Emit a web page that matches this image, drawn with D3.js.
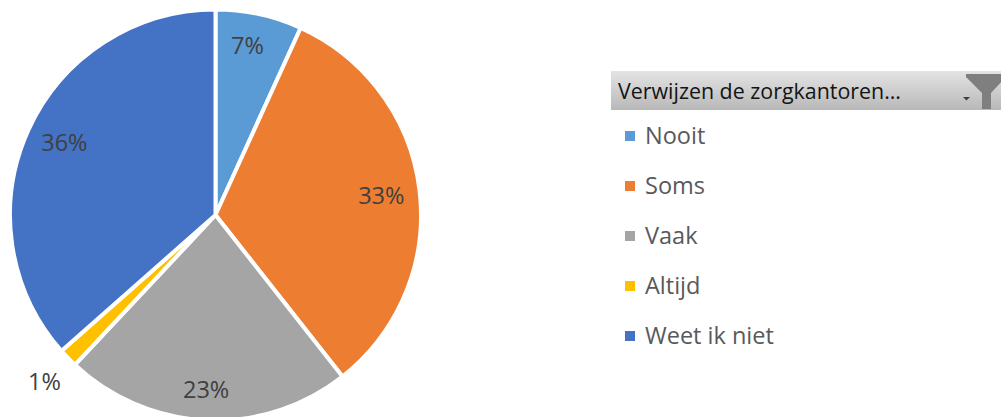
<!DOCTYPE html>
<html>
<head>
<meta charset="utf-8">
<script src="https://d3js.org/d3.v7.min.js"></script>
<style type="text/css">
  html, body { margin: 0; padding: 0; background: #fff; overflow: hidden; }
  text { font-family: "Open Sans", "Noto Sans", sans-serif; }
</style>
</head>
<body>
<svg id="chart" width="1001" height="417"></svg>
<script>
var categories = ["Nooit", "Soms", "Vaak", "Altijd", "Weet ik niet"];
var values = [6.8, 32.6, 22.6, 1.5, 36.5];
var labels = ["7%", "33%", "23%", "1%", "36%"];
var colors = ["#5b9bd5", "#ed7d31", "#a5a5a5", "#ffc000", "#4472c4"];
var filterTitle = "Verwijzen de zorgkantoren...";

var svg = d3.select("#chart");

var defs = svg.append("defs");
var grad = defs.append("linearGradient").attr("id", "hdr")
    .attr("x1", 0).attr("y1", 0).attr("x2", 0).attr("y2", 1);
grad.append("stop").attr("offset", "0%").attr("stop-color", "#e4e4e4");
grad.append("stop").attr("offset", "100%").attr("stop-color", "#b8b8b8");

// pie
var cx = 215.5, cy = 215, r = 205.5;
var pie = d3.pie().sort(null)(values);
var arc = d3.arc().innerRadius(0).outerRadius(r);
var labelRadius = [170, 170, 168, 0, 145];
// hand nudges so the labels land where the original put them
var nudgeX = [-4, -3, -2, 0, -19];
var nudgeY = [-3, 1, 7, 0, -13];
var g = svg.append("g").attr("transform", "translate(" + cx + "," + cy + ")");

g.selectAll("path").data(pie).enter().append("path")
    .attr("d", arc)
    .attr("fill", (d, i) => colors[i])
    .attr("stroke", "#fff")
    .attr("stroke-width", 4)
    .attr("stroke-linejoin", "round");

g.selectAll("text").data(pie).enter().append("text")
    .attr("text-anchor", "middle")
    .attr("font-size", 23.5)
    .attr("fill", "#404040")
    .attr("x", (d, i) => {
      var a = (d.startAngle + d.endAngle) / 2;
      return (i == 3 ? -171 : Math.sin(a) * labelRadius[i]) + nudgeX[i];
    })
    .attr("y", (d, i) => {
      var a = (d.startAngle + d.endAngle) / 2;
      return (i == 3 ? 166 : -Math.cos(a) * labelRadius[i]) + 8.5 + nudgeY[i];
    })
    .text((d, i) => labels[i]);

// filter button header
var hdrX = 611, hdrY = 71, hdrW = 390, hdrH = 39;
svg.append("rect").attr("x", hdrX).attr("y", hdrY).attr("width", hdrW).attr("height", hdrH)
    .attr("fill", "url(#hdr)");
svg.append("text").attr("x", 618).attr("y", 99).attr("font-size", 21)
    .attr("fill", "#141414").attr("textLength", 283).attr("lengthAdjust", "spacingAndGlyphs")
    .text(filterTitle);
svg.append("path").attr("d", "M963,97h7l-3.5,3.5z").attr("fill", "#404040");
svg.append("path").attr("d", "M966,74h40v3l-15,16v16h-9v-16l-16,-16z").attr("fill", "#7f7f7f");

// legend
var legendY = d3.scalePoint().domain(categories).range([136, 336]);
var legend = svg.append("g").selectAll("g").data(categories).enter().append("g")
    .attr("transform", d => "translate(625," + legendY(d) + ")");
legend.append("rect").attr("x", 0).attr("y", -5).attr("width", 10).attr("height", 10)
    .attr("fill", (d, i) => colors[i]);
legend.append("text").attr("x", 20).attr("y", 8).attr("font-size", 23.5)
    .attr("fill", "#595959").text(d => d);
</script>
</body>
</html>
